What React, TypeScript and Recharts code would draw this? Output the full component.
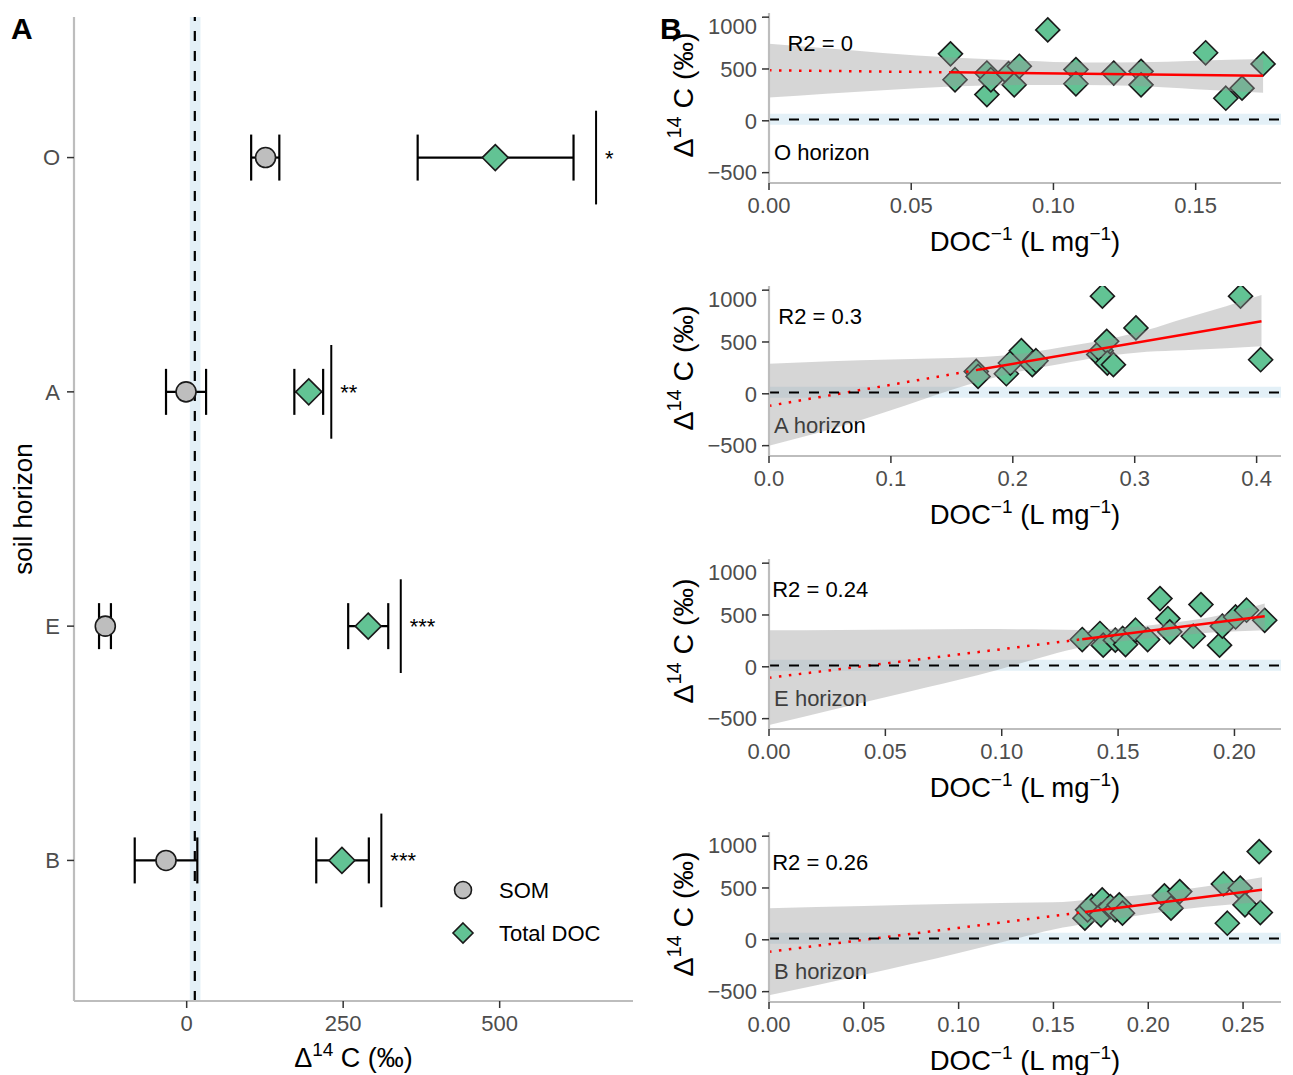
import React from 'react';
import {
  ComposedChart,
  Scatter,
  Line,
  Area,
  XAxis,
  YAxis,
  ErrorBar,
  ReferenceLine,
  ReferenceArea,
  ReferenceDot,
  Legend,
  Label,
} from 'recharts';

const FONT = "'Liberation Sans', Arial, Helvetica, sans-serif";
const GREEN = '#62C394';
const SOM_GREY = '#BEBEBE';
const BAND_BLUE = '#E3F0F7';
const AXIS_GREY = '#BDBDBD';
const TICK_TEXT = '#4D4D4D';

// ---- panel A: mean Δ14C by soil horizon ----
const horizons = ['O', 'A', 'E', 'B'];
const horizonPos = [4, 3, 2, 1];
const somMean = [126, -1, -130, -33];
const somLow = [103, -33, -140, -83];
const somHigh = [148, 31, -121, 17];
const docMean = [493, 195, 290, 248];
const docLow = [369, 172, 258, 207];
const docHigh = [618, 218, 322, 291];
const sigX = [654, 231, 342, 311];
const sigStars = ['*', '**', '***', '***'];
const atmMean = 13;
const atmBandA = [5, 22];
const atmBandB = [-38, 67];
const panelATicks = [0, 250, 500];

// ---- panel B: Δ14C vs 1/DOC per horizon ----
const oDocInv = [0.0638, 0.0654, 0.0766, 0.0766, 0.078, 0.0842, 0.0862, 0.088, 0.098, 0.1079, 0.1079, 0.1212, 0.1308, 0.1308, 0.1535, 0.1606, 0.1663, 0.1737];
const oD14c = [646, 396, 461, 253, 396, 455, 347, 526, 877, 494, 357, 460, 477, 347, 656, 218, 315, 549];
const oFit = [487, 0.0638, 468, 0.1737, 435]; // intercept, x0, y0, x1, y1
const oRibX = [0, 0.02, 0.04, 0.064, 0.09, 0.11, 0.13, 0.15, 0.1737];
const oRibLo = [224, 262, 295, 330, 345, 345, 335, 305, 270];
const oRibHi = [744, 700, 655, 610, 580, 563, 565, 580, 597];

const aDocInv = [0.17, 0.1715, 0.1947, 0.198, 0.207, 0.216, 0.219, 0.2705, 0.2725, 0.277, 0.2775, 0.2825, 0.2735, 0.301, 0.3868, 0.4033];
const aD14c = [216, 168, 194, 297, 416, 281, 319, 380, 416, 506, 297, 281, 942, 636, 942, 329];
const aFit = [-116, 0.1715, 232, 0.404, 700];
const aRibX = [0, 0.05, 0.1, 0.15, 0.2, 0.24, 0.275, 0.31, 0.34, 0.375, 0.404];
const aRibLo = [-500, -345, -159, 40, 200, 290, 360, 405, 420, 440, 458];
const aRibHi = [290, 315, 331, 345, 377, 450, 520, 615, 725, 845, 952];

const eDocInv = [0.1346, 0.1422, 0.1436, 0.1488, 0.152, 0.1532, 0.1575, 0.1627, 0.168, 0.1714, 0.1722, 0.1823, 0.1856, 0.1936, 0.1948, 0.2005, 0.2052, 0.213];
const eD14c = [263, 321, 209, 257, 273, 215, 353, 263, 658, 465, 337, 295, 600, 209, 392, 481, 546, 449];
const eFit = [-106, 0.1346, 266, 0.213, 488];
const eRibX = [0, 0.03, 0.06, 0.09, 0.12, 0.135, 0.15, 0.17, 0.19, 0.213];
const eRibLo = [-562, -400, -240, -80, 110, 193, 241, 289, 330, 353];
const eRibHi = [353, 356, 360, 364, 360, 355, 370, 417, 480, 610];

const bDocInv = [0.1666, 0.168, 0.17, 0.1757, 0.1751, 0.18, 0.1826, 0.1847, 0.1864, 0.2085, 0.212, 0.2166, 0.2396, 0.2417, 0.2485, 0.251, 0.2585, 0.2591];
const bD14c = [209, 289, 327, 385, 241, 321, 289, 337, 257, 424, 305, 465, 539, 160, 498, 337, 851, 263];
const bFit = [-115, 0.1666, 268, 0.26, 482];
const bRibX = [0, 0.05, 0.1, 0.13, 0.15, 0.17, 0.2, 0.23, 0.26];
const bRibLo = [-536, -337, -128, 10, 100, 165, 250, 318, 365];
const bRibHi = [305, 327, 347, 357, 362, 390, 440, 514, 603];

const r2Labels = ['R2 = 0', 'R2 = 0.3', 'R2 = 0.24', 'R2 = 0.26'];
const horizonLabels = ['O horizon', 'A horizon', 'E horizon', 'B horizon'];
const xMaxB = [0.18, 0.42, 0.22, 0.27];
const xTicksB = [
  [0, 0.05, 0.1, 0.15],
  [0, 0.1, 0.2, 0.3, 0.4],
  [0, 0.05, 0.1, 0.15, 0.2],
  [0, 0.05, 0.1, 0.15, 0.2, 0.25],
];
const xDigitsB = [2, 1, 2, 2];
const yTicksB = [-500, 0, 500, 1000];

const fmtMinus = (v: number) => String(v).replace('-', '\u2212');

const diamondShape = (r: number) => (props: any) => {
  const { cx, cy } = props;
  if (cx == null || cy == null) return null;
  return (
    <polygon
      points={`${cx},${cy - r} ${cx + r},${cy} ${cx},${cy + r} ${cx - r},${cy}`}
      fill={GREEN}
      stroke="#1A1A1A"
      strokeWidth={1.6}
    />
  );
};

const circleShape = (props: any) => {
  const { cx, cy } = props;
  if (cx == null || cy == null) return null;
  return <circle cx={cx} cy={cy} r={10} fill={SOM_GREY} stroke="#1A1A1A" strokeWidth={1.6} />;
};

const starShape = (props: any) => {
  const { cx, cy, payload } = props;
  if (cx == null || cy == null) return null;
  return (
    <text x={cx + 9} y={cy + 8} fontSize={22} fontFamily={FONT} fill="#000">
      {payload.label}
    </text>
  );
};

// horizon name, sits under the ribbon like in the original
const horizonTextShape = (props: any) => {
  const { cx, cy, payload } = props;
  if (cx == null || cy == null) return null;
  return (
    <text x={cx} y={cy + 8} fontSize={22} fontFamily={FONT} fill="#000">
      {payload.label}
    </text>
  );
};

function DeltaTitle({ x, y, rotate, size }: { x: number; y: number; rotate?: boolean; size: number }) {
  const sup = Math.round(size * 0.7);
  const lift = Math.round(size * 0.42);
  return (
    <text
      x={x}
      y={y}
      textAnchor="middle"
      fontSize={size}
      fontFamily={FONT}
      fill="#000"
      transform={rotate ? `rotate(-90 ${x} ${y})` : undefined}
    >
      <tspan>Δ</tspan>
      <tspan fontSize={sup} dy={-lift}>14</tspan>
      <tspan dy={lift}> C (‰)</tspan>
    </text>
  );
}

function DocTitle({ x, y }: { x: number; y: number }) {
  return (
    <text x={x} y={y} textAnchor="middle" fontSize={27.5} fontFamily={FONT} fill="#000">
      <tspan>DOC</tspan>
      <tspan fontSize={19} dy={-11}>−1</tspan>
      <tspan dy={11}> (L mg</tspan>
      <tspan fontSize={19} dy={-11}>−1</tspan>
      <tspan dy={11}>)</tspan>
    </text>
  );
}

function LegendA() {
  return (
    <svg width={200} height={90} style={{ display: 'block' }}>
      <circle cx={18} cy={20} r={8.5} fill={SOM_GREY} stroke="#1A1A1A" strokeWidth={1.6} />
      <text x={54} y={28} fontSize={22} fontFamily={FONT} fill="#000">SOM</text>
      <polygon points="18,53 28,63 18,73 8,63" fill={GREEN} stroke="#1A1A1A" strokeWidth={1.6} />
      <text x={54} y={71} fontSize={22} fontFamily={FONT} fill="#000">Total DOC</text>
    </svg>
  );
}

const tickStyle = { fill: TICK_TEXT, fontSize: 22, fontFamily: FONT };

function PanelA() {
  const somData = horizons.map((h, i) => ({
    x: somMean[i],
    y: horizonPos[i],
    err: [somMean[i] - somLow[i], somHigh[i] - somMean[i]],
  }));
  const docData = horizons.map((h, i) => ({
    x: docMean[i],
    y: horizonPos[i],
    err: [docMean[i] - docLow[i], docHigh[i] - docMean[i]],
  }));
  const sigData = horizons.map((h, i) => ({ x: sigX[i], y: horizonPos[i], label: sigStars[i] }));

  return (
    <ComposedChart width={650} height={1075} margin={{ top: 17, right: 17, left: 0, bottom: 0 }}>
      <XAxis
        type="number"
        dataKey="x"
        domain={[-180, 713]}
        ticks={panelATicks}
        allowDataOverflow
        height={74}
        tick={tickStyle}
        tickSize={7}
        tickMargin={7}
        tickLine={{ stroke: '#333', strokeWidth: 1.5 }}
        axisLine={{ stroke: AXIS_GREY, strokeWidth: 2.2 }}
      >
        <Label content={(p: any) => <DeltaTitle size={27} x={p.viewBox.x + p.viewBox.width / 2} y={p.viewBox.y + 66} />} />
      </XAxis>
      <YAxis
        type="number"
        dataKey="y"
        domain={[0.4, 4.6]}
        ticks={[1, 2, 3, 4]}
        tickFormatter={(v: number) => horizons[horizonPos.indexOf(v)]}
        allowDataOverflow
        width={74}
        tick={tickStyle}
        tickSize={7}
        tickMargin={7}
        tickLine={{ stroke: '#333', strokeWidth: 1.5 }}
        axisLine={{ stroke: AXIS_GREY, strokeWidth: 2.2 }}
      >
        <Label
          content={(p: any) => {
            const cx = p.viewBox.x + 32;
            const cy = p.viewBox.y + p.viewBox.height / 2;
            return (
              <text x={cx} y={cy} textAnchor="middle" fontSize={26} fontFamily={FONT} fill="#000" transform={`rotate(-90 ${cx} ${cy})`}>
                soil horizon
              </text>
            );
          }}
        />
      </YAxis>
      <ReferenceArea x1={atmBandA[0]} x2={atmBandA[1]} fill={BAND_BLUE} fillOpacity={1} stroke="none" zIndex={-60} />
      <ReferenceLine x={atmMean} stroke="#000" strokeWidth={2.2} strokeDasharray="10 10" />
      {sigData.map((s) => (
        <ReferenceLine
          key={s.label + s.y}
          segment={[{ x: s.x, y: s.y - 0.2 }, { x: s.x, y: s.y + 0.2 }]}
          stroke="#000"
          strokeWidth={2}
        />
      ))}
      <Scatter data={somData} shape={circleShape} isAnimationActive={false}>
        <ErrorBar dataKey="err" direction="x" width={23} stroke="#000" strokeWidth={2.2} isAnimationActive={false} />
      </Scatter>
      <Scatter data={docData} shape={diamondShape(13)} isAnimationActive={false}>
        <ErrorBar dataKey="err" direction="x" width={23} stroke="#000" strokeWidth={2.2} isAnimationActive={false} />
      </Scatter>
      <Scatter data={sigData} shape={starShape} isAnimationActive={false} />
      <Legend
        layout="horizontal"
        verticalAlign="middle"
        align="center"
        wrapperStyle={{ position: 'absolute', left: 445, top: 870, width: 200, height: 90 }}
        content={() => <LegendA />}
      />
    </ComposedChart>
  );
}

interface HorizonProps {
  idx: number;
  docInv: number[];
  d14c: number[];
  fit: number[];
  ribX: number[];
  ribLo: number[];
  ribHi: number[];
}

function HorizonPanel({ idx, docInv, d14c, fit, ribX, ribLo, ribHi }: HorizonProps) {
  const points = docInv.map((v, i) => ({ x: v, y: d14c[i] }));
  const ribbon = ribX.map((v, i) => ({ x: v, band: [ribLo[i], ribHi[i]] }));
  const dotted = [{ x: 0, y: fit[0] }, { x: fit[1], y: fit[2] }];
  const solid = [{ x: fit[1], y: fit[2] }, { x: fit[3], y: fit[4] }];
  const xMax = xMaxB[idx];
  const digits = xDigitsB[idx];
  const nameData = [{ x: xMax * 0.01, y: -300, label: horizonLabels[idx] }];

  return (
    <div style={{ position: 'absolute', left: 660, top: 13 + idx * 273 }}>
      <ComposedChart width={633} height={245} margin={{ top: 0, right: 12, left: 0, bottom: 0 }}>
        <XAxis
          type="number"
          dataKey="x"
          domain={[0, xMax]}
          ticks={xTicksB[idx]}
          tickFormatter={(v: number) => v.toFixed(digits)}
          allowDataOverflow
          height={75}
          tick={tickStyle}
          tickSize={7}
          tickMargin={7}
          tickLine={{ stroke: '#333', strokeWidth: 1.5 }}
          axisLine={{ stroke: AXIS_GREY, strokeWidth: 2.2 }}
        >
          <Label content={(p: any) => <DocTitle x={p.viewBox.x + p.viewBox.width / 2} y={p.viewBox.y + 68} />} />
        </XAxis>
        <YAxis
          type="number"
          dataKey="y"
          domain={[-600, 1040]}
          ticks={yTicksB}
          tickFormatter={fmtMinus}
          allowDataOverflow
          width={109}
          tick={tickStyle}
          tickSize={7}
          tickMargin={5}
          tickLine={{ stroke: '#333', strokeWidth: 1.5 }}
          axisLine={{ stroke: AXIS_GREY, strokeWidth: 2.2 }}
        >
          <Label content={(p: any) => <DeltaTitle rotate size={28.5} x={p.viewBox.x + 33} y={p.viewBox.y + p.viewBox.height / 2 - 3} />} />
        </YAxis>
        <ReferenceArea y1={atmBandB[0]} y2={atmBandB[1]} fill={BAND_BLUE} fillOpacity={1} stroke="none" zIndex={-60} />
        <Scatter data={nameData} shape={horizonTextShape} isAnimationActive={false} zIndex={40} />
        <Scatter data={points} shape={diamondShape(12)} isAnimationActive={false} zIndex={50} />
        <Area
          data={ribbon}
          dataKey="band"
          type="monotone"
          fill="#999999"
          fillOpacity={0.4}
          stroke="none"
          dot={false}
          activeDot={false}
          isAnimationActive={false}
          zIndex={100}
        />
        <Line data={dotted} dataKey="y" type="linear" stroke="#FF0000" strokeWidth={2.5} strokeDasharray="2.5 7.5" dot={false} activeDot={false} isAnimationActive={false} />
        <Line data={solid} dataKey="y" type="linear" stroke="#FF0000" strokeWidth={2.5} dot={false} activeDot={false} isAnimationActive={false} />
        <ReferenceLine y={atmMean} stroke="#000" strokeWidth={2} strokeDasharray="10 10" zIndex={450} />
        <ReferenceDot
          x={xMax * 0.1}
          y={750}
          r={0}
          stroke="none"
          label={{ value: r2Labels[idx], position: 'center', fill: '#000', fontSize: 22, fontFamily: FONT }}
        />
      </ComposedChart>
    </div>
  );
}

export default function App() {
  return (
    <div
      style={{
        position: 'absolute',
        left: 0,
        top: 0,
        width: 1293,
        height: 1075,
        overflow: 'hidden',
        background: '#fff',
        fontFamily: FONT,
      }}
    >
      <div style={{ position: 'absolute', left: 0, top: 0 }}>
        <PanelA />
      </div>
      <HorizonPanel idx={0} docInv={oDocInv} d14c={oD14c} fit={oFit} ribX={oRibX} ribLo={oRibLo} ribHi={oRibHi} />
      <HorizonPanel idx={1} docInv={aDocInv} d14c={aD14c} fit={aFit} ribX={aRibX} ribLo={aRibLo} ribHi={aRibHi} />
      <HorizonPanel idx={2} docInv={eDocInv} d14c={eD14c} fit={eFit} ribX={eRibX} ribLo={eRibLo} ribHi={eRibHi} />
      <HorizonPanel idx={3} docInv={bDocInv} d14c={bD14c} fit={bFit} ribX={bRibX} ribLo={bRibLo} ribHi={bRibHi} />
      <div style={{ position: 'absolute', left: 11, top: 9, fontSize: 30, fontWeight: 700, lineHeight: '40px' }}>A</div>
      <div style={{ position: 'absolute', left: 660, top: 9, fontSize: 30, fontWeight: 700, lineHeight: '40px' }}>B</div>
    </div>
  );
}
